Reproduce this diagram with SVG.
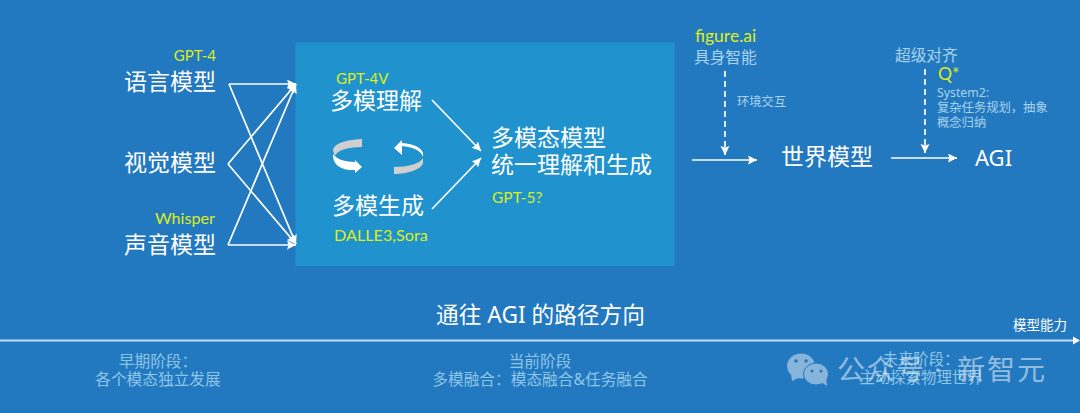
<svg xmlns="http://www.w3.org/2000/svg" width="1080" height="413" viewBox="0 0 1080 413">
<style>
text{font-family:"Noto Sans","Noto Sans CJK SC",sans-serif;fill:#fff}
.n{font-size:23px}
text.y{font-family:Lato,"Noto Sans",sans-serif;fill:#dcee1a;font-size:16.200px}
text.p{font-size:15px}
.l{fill:#a9d3ee}
.s{fill:#8ec6e8;font-size:15.700px}
.c{fill:none;stroke:#fff;stroke-width:1.700}
.d{fill:none;stroke:#fff;stroke-width:1.700;stroke-dasharray:6 4}
.g{fill:#cfcfcf}
.w{fill:#fff}
.b{fill:#e8eff5}
</style>
<defs>
<marker id="a" markerWidth="10" markerHeight="10" refX="9" refY="4.500" orient="auto" markerUnits="userSpaceOnUse"><path d="M0 0L9 4.500L0 9L1.500 4.500Z" fill="#fff"/></marker>
</defs>
<rect width="1080" height="413" fill="#2379bf"/>
<g id="box"><rect x="295.500" y="42.500" width="379" height="223.500" fill="#2093ce"/></g>
<g id="connectors">
<path class="c" d="M229 84H296" marker-end="url(#a)"/>
<path class="c" d="M229 84L296 244" marker-end="url(#a)"/>
<path class="c" d="M228 164L296 84" marker-end="url(#a)"/>
<path class="c" d="M228 164L296 244" marker-end="url(#a)"/>
<path class="c" d="M228 245L296 84" marker-end="url(#a)"/>
<path class="c" d="M228 245H296" marker-end="url(#a)"/>
<path class="c" d="M432 100L481 151" marker-end="url(#a)"/>
<path class="c" d="M432 209L481 158" marker-end="url(#a)"/>
<path class="c" d="M692 160H757" marker-end="url(#a)"/>
<path class="c" d="M891 158H957" marker-end="url(#a)"/>
<path class="d" d="M725 71V155" marker-end="url(#a)"/>
<path class="d" d="M925 69V153" marker-end="url(#a)"/>
<path d="M0 340.500H1078" fill="none" stroke="#bcdcf2" stroke-width="1.800"/>
<path d="M1073 336.500L1080 340.500L1073 344.500Z" fill="#fff"/>
</g>
<g id="language"><text class="y p" x="216" y="61" text-anchor="end">GPT-4</text><text class="n" x="124" y="90">语言模型</text></g>
<g id="vision"><text class="n" x="124" y="171">视觉模型</text></g>
<g id="audio"><text class="y" x="215" y="224" text-anchor="end">Whisper</text><text class="n" x="124" y="253">声音模型</text></g>
<g id="understand"><text class="y p" x="336" y="84">GPT-4V</text><text class="n" x="330" y="109">多模理解</text></g>
<g id="cycle">
<path class="g" d="M362 139C344 140 333 144 333 151L335 156C337 150 349 147 362 147Z"/>
<path class="w" d="M333 154C336 159 345 162 355 162V160L362 167L355 173V170C344 171 332 166 333 154Z"/>
<path class="g" d="M394 167C407 167 420 164 423 158V163C422 169 408 174 394 174Z"/>
<path class="w" d="M423 157C421 150 412 147 402 146V155L394 148L402 140V143C414 144 425 148 423 157Z"/>
</g>
<g id="generate"><text class="n" x="332" y="214">多模生成</text><text class="y" x="334" y="241">DALLE3,Sora</text></g>
<g id="multimodal"><text class="n" x="491" y="146">多模态模型</text><text class="n" x="491" y="173">统一理解和生成</text><text class="y" x="492" y="203" style="font-size:15.500px">GPT-5?</text></g>
<g id="embodied"><text class="y" x="695" y="42" style="font-size:17.500px">figure.ai</text><text class="l" x="694" y="63" style="font-size:15.700px">具身智能</text><text class="l" x="737" y="106" style="font-size:12.300px">环境交互</text></g>
<g id="world"><text class="n" x="781" y="165">世界模型</text></g>
<g id="alignment"><text class="l" x="895" y="61" style="font-size:15.700px">超级对齐</text><text class="y" x="938" y="80" style="font-size:17.500px">Q*</text><text class="l" x="937" y="97" style="font-size:12.300px">System2:</text><text class="l" x="937" y="112" style="font-size:12.300px">复杂任务规划，抽象</text><text class="l" x="937" y="127" style="font-size:12.300px">概念归纳</text></g>
<g id="agi"><text class="n" x="975" y="166" style="font-size:22px">AGI</text></g>
<g id="axis"><text x="540.500" y="323" text-anchor="middle" style="font-size:22.700px">通往 AGI 的路径方向</text><text x="1067" y="330" text-anchor="end" style="font-size:13.500px">模型能力</text></g>
<g id="early"><text class="s" x="158" y="367" text-anchor="middle">早期阶段：</text><text class="s" x="158" y="385" text-anchor="middle">各个模态独立发展</text></g>
<g id="current"><text class="s" x="540" y="367" text-anchor="middle">当前阶段</text><text class="s" x="540" y="385" text-anchor="middle">多模融合：模态融合&amp;任务融合</text></g>
<g id="future"><text class="s" x="921" y="365" text-anchor="middle" style="font-size:15.400px">未来阶段：</text><text class="s" x="921" y="383" text-anchor="middle" style="font-size:15.400px">主动探索物理世界</text></g>
<g id="watermark" opacity=".5">
<ellipse class="b" cx="801" cy="366" rx="14" ry="12.500"/><path class="b" d="M791 374L792 381L800 377Z"/>
<ellipse class="b" cx="816" cy="374" rx="12.500" ry="11" stroke="#2379bf"/><path class="b" d="M821 382L827 386L826 378Z"/>
<circle cx="796" cy="361" r="1.800" fill="#2379bf"/><circle cx="806" cy="361" r="1.800" fill="#2379bf"/>
<circle cx="812" cy="371" r="1.500" fill="#2379bf"/><circle cx="821" cy="371" r="1.500" fill="#2379bf"/>
<text x="837" y="380" style="font-size:28px;letter-spacing:1.500px">公众号</text>
<text x="934" y="380" style="font-size:28px">·</text>
<text x="957" y="380" style="font-size:28px;letter-spacing:2px">新智元</text>
</g>
</svg>
